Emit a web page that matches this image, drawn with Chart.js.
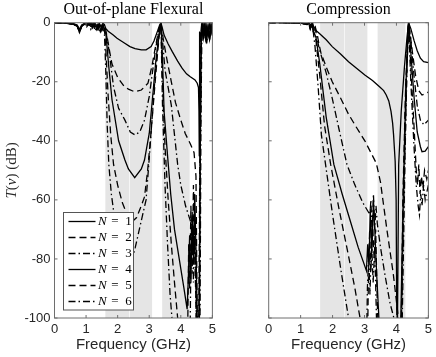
<!DOCTYPE html>
<html><head><meta charset="utf-8">
<script src="https://cdn.jsdelivr.net/npm/chart.js@4.4.1/dist/chart.umd.min.js"></script>
<style>
html,body{margin:0;padding:0;background:#fff;}
#wrap{position:relative;width:436px;height:357px;overflow:hidden;}
canvas{position:absolute;top:0;}
</style></head>
<body><div id="wrap">
<canvas id="c1" width="220" height="357" style="left:0;width:220px;height:357px"></canvas>
<canvas id="c2" width="216" height="357" style="left:220px;width:216px;height:357px"></canvas>
</div>
<script>
// ---- data (frequency GHz, transmission dB) ----
const panelTitles = ['Out-of-plane Flexural', 'Compression'];
const seriesLabels = ['1', '2', '3', '4', '5', '6'];
const freqTicks = [0, 1, 2, 3, 4, 5];
const dbTicks = [-100, -80, -60, -40, -20, 0];
const bands = [[1.61, 2.37], [2.39, 3.09], [3.41, 4.28]];
const yTitleParts = [['T', 'italic'], ['(', 'normal'], ['ν', 'italic'], [')', 'normal'], [' (dB)', 'normal']];

const flexN1 = [[0,0],[0.3,-0.1],[0.6,-0.3],[0.72,-0.8],[0.79,-2.2],[0.86,-0.8],[0.95,-0.2],[1.1,-0.3],[1.2,-0.8],[1.28,-0.2],[1.36,-1.2],[1.42,-0.3],[1.48,-1.5],[1.53,-0.2],[1.58,-0.6],[1.62,-1.9],[1.7,-2.9],[1.85,-4.1],[1.98,-5.3],[2.2,-6.8],[2.39,-8.1],[2.55,-8.8],[2.75,-9.2],[2.9,-9.2],[3.06,-8.1],[3.15,-6.2],[3.25,-3.2],[3.33,-0.8],[3.37,0],[3.42,-2],[3.47,-4.2],[3.6,-7.2],[3.73,-9.8],[3.9,-13],[4.04,-15.4],[4.18,-17.3],[4.3,-18.3],[4.45,-19.4],[4.52,-20.5],[4.56,-22],[4.575,-30],[4.585,-45],[4.595,-3],[4.62,-6],[4.66,-1],[4.7,-4],[4.74,-0.5],[4.78,-5],[4.82,-1],[4.86,-3.5],[4.9,-0.5],[4.94,-4],[4.97,-1],[5,-2]];
const flexN2 = [[0,0],[0.3,-0.1],[0.6,-0.4],[0.72,-1],[0.79,-2.6],[0.86,-1],[0.95,-0.3],[1.1,-0.6],[1.18,-0.1],[1.26,-1.4],[1.33,-0.3],[1.4,-1.8],[1.46,-0.4],[1.52,-2.2],[1.57,-0.6],[1.6,-1.2],[1.67,-5],[1.75,-10],[1.82,-14],[2,-18.5],[2.2,-21.5],[2.34,-22.5],[2.54,-23.4],[2.75,-22.8],[2.96,-20.5],[3.08,-15],[3.2,-8],[3.3,-2.5],[3.37,0],[3.45,-6],[3.57,-13],[3.7,-20],[3.83,-27],[4,-33],[4.14,-37.5],[4.3,-41],[4.42,-44],[4.48,-52],[4.52,-100],[4.56,-120],[4.6,-50],[4.63,-8],[4.66,0],[4.7,-3.5],[4.75,-1],[4.8,-5.5],[4.84,-1.5],[4.88,-4],[4.92,-0.5],[4.96,-3],[5,-1]];
const flexN3 = [[0,0],[0.3,-0.1],[0.6,-0.4],[0.72,-1.1],[0.79,-2.8],[0.86,-1.1],[0.95,-0.3],[1.08,-0.9],[1.15,-0.1],[1.22,-1.6],[1.3,-0.2],[1.37,-2.2],[1.44,-0.5],[1.5,-2.6],[1.56,-0.8],[1.62,-2.5],[1.72,-9],[1.87,-21.7],[2.03,-29],[2.23,-33],[2.4,-37],[2.55,-38],[2.7,-37],[2.85,-33],[3,-25],[3.1,-17],[3.2,-9],[3.3,-2.5],[3.37,0],[3.42,-6],[3.5,-16],[3.6,-22],[3.7,-28],[3.8,-38],[3.9,-48],[4,-55],[4.15,-62],[4.3,-67],[4.36,-70],[4.4,-82],[4.44,-72],[4.48,-90],[4.52,-120],[4.58,-120],[4.62,-40],[4.65,-5],[4.68,0],[4.72,-4],[4.77,-0.8],[4.81,-6],[4.86,-1.2],[4.9,-4.5],[4.95,-1],[5,-3]];
const flexN4 = [[0,0],[0.3,-0.1],[0.6,-0.5],[0.72,-1.2],[0.79,-3],[0.86,-1.2],[0.95,-0.4],[1.05,-1],[1.12,-0.1],[1.2,-1.8],[1.27,-0.3],[1.34,-2.4],[1.41,-0.6],[1.47,-2.8],[1.53,-0.8],[1.58,-2],[1.63,-4],[1.72,-15],[1.82,-26],[2.03,-40],[2.23,-46.5],[2.34,-49.5],[2.54,-52.5],[2.75,-49.5],[2.85,-46.5],[3,-37.5],[3.1,-26],[3.2,-14],[3.3,-4.5],[3.37,0],[3.42,-12],[3.47,-30],[3.58,-45],[3.68,-58],[3.8,-70],[3.95,-80],[4.1,-90],[4.2,-97],[4.24,-86],[4.28,-72],[4.32,-88],[4.36,-64],[4.4,-80],[4.44,-58],[4.48,-76],[4.52,-100],[4.56,-120],[4.61,-55],[4.64,-6],[4.67,0],[4.72,-5],[4.77,-1],[4.81,-6.5],[4.86,-2],[4.9,-5],[4.95,-1],[5,-4]];
const flexN5 = [[0,0],[0.3,-0.1],[0.6,-0.5],[0.72,-1.3],[0.79,-3.2],[0.86,-1.3],[0.95,-0.4],[1.03,-1.2],[1.1,-0.1],[1.17,-2],[1.24,-0.3],[1.31,-2.6],[1.38,-0.7],[1.45,-3],[1.51,-0.9],[1.58,-2],[1.62,-8],[1.7,-25],[1.78,-38],[1.87,-48],[2,-55],[2.15,-61],[2.3,-65],[2.45,-67.5],[2.6,-66],[2.75,-62],[2.85,-59],[2.95,-50],[3.05,-38],[3.15,-25],[3.25,-12],[3.32,-4],[3.37,0],[3.42,-20],[3.5,-42],[3.6,-60],[3.7,-75],[3.8,-88],[3.9,-100],[3.95,-120],[4.2,-120],[4.25,-75],[4.28,-90],[4.32,-62],[4.36,-85],[4.4,-55],[4.44,-78],[4.48,-95],[4.52,-120],[4.58,-120],[4.62,-40],[4.65,-4],[4.69,0],[4.73,-5.5],[4.78,-1.5],[4.82,-7],[4.87,-2],[4.91,-5.5],[4.96,-1.5],[5,-4.5]];
const flexN6 = [[0,0],[0.3,-0.1],[0.6,-0.5],[0.72,-1.4],[0.79,-3.4],[0.86,-1.4],[0.95,-0.5],[1.02,-1.4],[1.08,-0.2],[1.15,-2.2],[1.22,-0.4],[1.29,-2.8],[1.36,-0.8],[1.43,-3.2],[1.5,-1],[1.55,-2.5],[1.58,-3],[1.62,-15],[1.67,-35],[1.72,-48],[1.8,-58],[1.9,-66],[2.05,-73],[2.25,-79],[2.42,-82],[2.56,-76],[2.75,-67],[2.9,-60],[3,-46],[3.1,-31],[3.2,-16],[3.3,-5],[3.37,0],[3.42,-28],[3.5,-55],[3.58,-75],[3.66,-92],[3.72,-100],[3.78,-120],[4.28,-120],[4.32,-80],[4.36,-66],[4.4,-88],[4.44,-70],[4.48,-85],[4.52,-120],[4.6,-120],[4.64,-30],[4.67,-2],[4.7,0],[4.74,-4],[4.79,-1],[4.83,-6],[4.88,-1.5],[4.92,-5],[4.97,-1],[5,-3]];

const compN1 = [[0,0],[0.5,0],[1,-0.1],[1.2,-0.3],[1.27,-0.1],[1.33,-1],[1.38,-0.3],[1.43,-2.5],[1.5,-2.8],[1.58,-3.6],[1.8,-5.8],[1.99,-8.1],[2.25,-10.6],[2.5,-13.2],[2.75,-15.4],[3.01,-17.7],[3.25,-19.6],[3.47,-21.7],[3.6,-23],[3.68,-24.5],[3.76,-26.5],[3.83,-30],[3.88,-34],[3.91,-38],[3.96,-47],[3.99,-60],[4.02,-120],[4.04,-120],[4.07,-48],[4.15,-30],[4.25,-15],[4.33,-5],[4.38,0],[4.45,-2],[4.55,-6],[4.65,-9.5],[4.75,-12],[4.85,-13.2],[5,-13.5]];
const compN2 = [[0,0],[0.5,0],[1,-0.1],[1.2,-0.4],[1.26,-0.1],[1.31,-1.4],[1.36,-0.3],[1.41,-2.2],[1.46,-1.5],[1.52,-4],[1.57,-7],[1.63,-10],[1.8,-15],[1.99,-20],[2.25,-25.5],[2.5,-31],[2.75,-35.5],[3.01,-40],[3.2,-44],[3.37,-47.6],[3.5,-54],[3.7,-70],[3.9,-85],[4.06,-100],[4.1,-120],[4.14,-120],[4.2,-60],[4.28,-25],[4.34,-7],[4.38,0],[4.42,-3],[4.5,-10],[4.6,-18],[4.7,-23],[4.8,-24.5],[4.9,-24],[5,-23.5]];
const compN3 = [[0,0],[0.5,0],[1,-0.1],[1.2,-0.5],[1.25,-0.1],[1.3,-1.6],[1.35,-0.4],[1.4,-2.5],[1.45,-1.5],[1.5,-4.5],[1.58,-8.7],[1.8,-17],[1.99,-25.6],[2.2,-36],[2.45,-48],[2.7,-55],[2.95,-61],[3.17,-65],[3.2,-60],[3.24,-72],[3.28,-58],[3.32,-70],[3.36,-62],[3.4,-68],[3.5,-76],[3.65,-86],[3.8,-95],[3.92,-100],[3.98,-120],[4.12,-120],[4.2,-70],[4.28,-30],[4.34,-8],[4.38,0],[4.45,-6],[4.55,-18],[4.65,-28],[4.75,-33],[4.86,-34.6],[5,-33]];
const compN4 = [[0,0],[0.5,0],[1,-0.1],[1.2,-0.6],[1.25,-0.1],[1.3,-1.8],[1.35,-0.5],[1.4,-2.8],[1.48,-5],[1.6,-14],[1.8,-32],[2.04,-48],[2.3,-58],[2.55,-67],[2.8,-76],[3.06,-84],[3.1,-75],[3.14,-82],[3.18,-63],[3.23,-78],[3.28,-60],[3.33,-72],[3.38,-85],[3.45,-100],[3.55,-120],[4.1,-120],[4.22,-55],[4.3,-20],[4.38,0],[4.45,-10],[4.55,-25],[4.65,-37],[4.75,-42],[4.8,-43.7],[4.9,-43.5],[5,-42]];
const compN5 = [[0,0],[0.5,0],[1,-0.1],[1.2,-0.6],[1.25,-0.2],[1.3,-2],[1.35,-0.5],[1.4,-3],[1.48,-6],[1.6,-18],[1.75,-35],[1.94,-48],[2.2,-63],[2.5,-79],[2.7,-90],[2.86,-100],[2.95,-120],[3.08,-120],[3.12,-88],[3.16,-70],[3.2,-84],[3.25,-67],[3.3,-80],[3.35,-70],[3.4,-95],[3.48,-120],[4.12,-120],[4.25,-50],[4.32,-18],[4.38,0],[4.45,-15],[4.55,-35],[4.62,-50],[4.66,-55],[4.7,-48],[4.74,-58],[4.78,-52],[4.83,-56],[4.88,-50],[4.95,-53],[5,-50]];
const compN6 = [[0,0],[0.5,0],[1,-0.1],[1.2,-0.7],[1.25,-0.2],[1.3,-2.2],[1.35,-0.6],[1.4,-3.5],[1.45,-8],[1.55,-22],[1.65,-38],[1.78,-48],[2,-65],[2.25,-83],[2.5,-100],[2.6,-120],[3.05,-120],[3.09,-90],[3.13,-78],[3.17,-92],[3.22,-74],[3.27,-88],[3.32,-76],[3.37,-98],[3.42,-120],[4.15,-120],[4.27,-45],[4.33,-15],[4.38,0],[4.45,-20],[4.55,-42],[4.62,-55],[4.68,-62],[4.72,-65],[4.76,-58],[4.8,-62],[4.85,-55],[4.9,-60],[5,-55]];

const flexSeries = [flexN1, flexN2, flexN3, flexN4, flexN5, flexN6];
const compSeries = [compN1, compN2, compN3, compN4, compN5, compN6];

// ---- styling ----
const dashes = [[], [7, 4], [7, 3, 1.5, 3]];
const sansFont = '"Liberation Sans", Arial, sans-serif';
const serifFont = '"Liberation Serif", "Times New Roman", serif';
const ink = '#262626';

function makeDatasets(series) {
  return series.map((arr, i) => ({
    label: 'N = ' + seriesLabels[i],
    data: arr.map(p => ({x: p[0], y: p[1]})),
    borderColor: '#000',
    borderWidth: 1.3,
    borderDash: dashes[i % 3],
    pointRadius: 0,
    tension: 0,
    fill: false
  }));
}

const bandPlugin = {
  id: 'bands',
  beforeDatasetsDraw(chart) {
    const {ctx, chartArea: a, scales: {x}} = chart;
    ctx.save();
    ctx.fillStyle = '#e5e5e5';
    bands.forEach(b => {
      const x0 = x.getPixelForValue(b[0]), x1 = x.getPixelForValue(b[1]);
      ctx.fillRect(x0, a.top, x1 - x0, a.bottom - a.top);
    });
    ctx.restore();
  }
};

const framePlugin = {
  id: 'frame',
  afterDatasetsDraw(chart) {
    const {ctx, chartArea: a, scales: {x, y}} = chart;
    ctx.save();
    ctx.strokeStyle = '#6e6e6e';
    ctx.lineWidth = 1;
    ctx.strokeRect(a.left, a.top, a.right - a.left, a.bottom - a.top);
    ctx.beginPath();
    freqTicks.forEach(v => {
      const px = x.getPixelForValue(v);
      ctx.moveTo(px, a.bottom); ctx.lineTo(px, a.bottom - 3);
      ctx.moveTo(px, a.top); ctx.lineTo(px, a.top + 3);
    });
    dbTicks.forEach(v => {
      const py = y.getPixelForValue(v);
      ctx.moveTo(a.left, py); ctx.lineTo(a.left + 3, py);
      ctx.moveTo(a.right, py); ctx.lineTo(a.right - 3, py);
    });
    ctx.stroke();
    ctx.restore();
  }
};

const yTitlePlugin = {
  id: 'yTitle',
  afterDraw(chart) {
    const {ctx, chartArea: a} = chart;
    ctx.save();
    ctx.fillStyle = ink;
    ctx.textBaseline = 'middle';
    ctx.textAlign = 'left';
    const fontFor = st => (st === 'italic' ? 'italic ' : '') + '15px ' + serifFont;
    let total = 0;
    yTitleParts.forEach(p => { ctx.font = fontFor(p[1]); total += ctx.measureText(p[0]).width; });
    ctx.translate(12.5, (a.top + a.bottom) / 2);
    ctx.rotate(-Math.PI / 2);
    let cx = -total / 2;
    yTitleParts.forEach(p => {
      ctx.font = fontFor(p[1]);
      ctx.fillText(p[0], cx, 0);
      cx += ctx.measureText(p[0]).width;
    });
    ctx.restore();
  }
};

const legendPlugin = {
  id: 'inLegend',
  afterDraw(chart) {
    const {ctx} = chart;
    const bx = 63.5, by = 212.5, bw = 70, bh = 97.5;
    ctx.save();
    ctx.fillStyle = '#fff';
    ctx.fillRect(bx, by, bw, bh);
    ctx.strokeStyle = '#555';
    ctx.lineWidth = 1;
    ctx.strokeRect(bx, by, bw, bh);
    chart.data.datasets.forEach((ds, i) => {
      const yy = by + 9 + i * 16;
      ctx.beginPath();
      ctx.setLineDash(ds.borderDash);
      ctx.strokeStyle = '#000';
      ctx.lineWidth = 1.3;
      ctx.moveTo(bx + 5, yy); ctx.lineTo(bx + 32, yy);
      ctx.stroke();
      ctx.setLineDash([]);
      ctx.fillStyle = '#000';
      ctx.textBaseline = 'middle';
      ctx.textAlign = 'left';
      ctx.font = 'italic 13px ' + serifFont;
      ctx.fillText('N', bx + 34.5, yy);
      ctx.font = '13px ' + serifFont;
      ctx.textAlign = 'center';
      ctx.fillText('=', bx + 51.5, yy);
      ctx.fillText(seriesLabels[i], bx + 65, yy);
    });
    ctx.restore();
  }
};

function makeChart(canvasId, series, title, leftWidth, rightPad, showY, extraPlugins) {
  return new Chart(document.getElementById(canvasId), {
    type: 'line',
    data: {datasets: makeDatasets(series)},
    plugins: [bandPlugin, framePlugin].concat(extraPlugins),
    options: {
      responsive: false,
      animation: false,
      devicePixelRatio: 1,
      layout: {padding: {left: 0, right: rightPad, top: 0, bottom: 0}},
      plugins: {
        legend: {display: false},
        tooltip: {enabled: false},
        title: {
          display: true, text: title, fullSize: false, color: '#000',
          font: {family: serifFont, size: 16, weight: 'normal'},
          padding: {top: 0.5, bottom: 3}
        }
      },
      scales: {
        x: {
          type: 'linear', min: 0, max: 5,
          afterBuildTicks: s => { s.ticks = freqTicks.map(v => ({value: v})); },
          grid: {display: false, drawTicks: false},
          border: {display: false},
          ticks: {color: ink, padding: 4, font: {family: sansFont, size: 13}, maxRotation: 0},
          title: {display: true, text: 'Frequency (GHz)', color: ink,
                  font: {family: sansFont, size: 15}, padding: {top: 0, bottom: 3}},
          afterFit: s => { s.height = 39; }
        },
        y: {
          type: 'linear', min: -100, max: 0,
          afterBuildTicks: s => { s.ticks = dbTicks.map(v => ({value: v})); },
          grid: {display: false, drawTicks: false},
          border: {display: false},
          ticks: {display: showY, color: ink, padding: 4, font: {family: sansFont, size: 13}},
          title: {display: false},
          afterFit: s => { s.width = leftWidth; }
        }
      }
    }
  });
}

makeChart('c1', flexSeries, panelTitles[0], 54.5, 4, true, [legendPlugin, yTitlePlugin]);
makeChart('c2', compSeries, panelTitles[1], 48.7, 4.7, false, []);
</script>
</body></html>
